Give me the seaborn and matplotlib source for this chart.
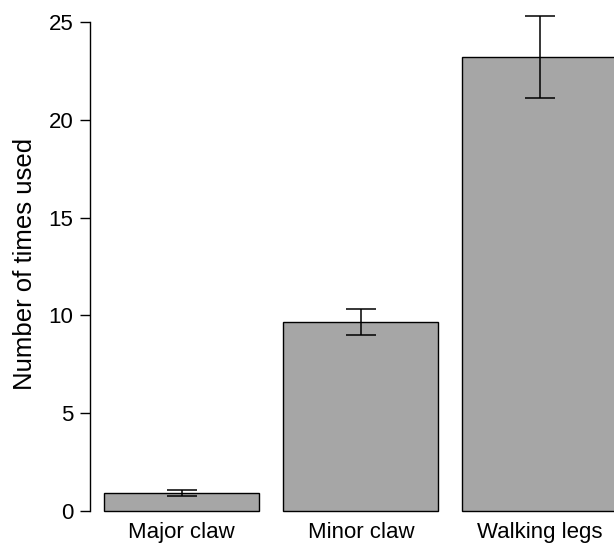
import matplotlib
matplotlib.use("Agg")
import matplotlib.pyplot as plt
import seaborn as sns
import pandas as pd

categories = ["Major claw", "Minor claw", "Walking legs"]
means = [0.93, 9.65, 23.2]
err_low = [0.78, 9.0, 21.1]
err_high = [1.08, 10.32, 25.3]
yticks = [0, 5, 10, 15, 20, 25]

sns.set_theme(style="white")
plt.rcParams['font.family'] = ['Liberation Sans', 'DejaVu Sans']

df = pd.DataFrame({"part": categories, "count": means})

W, H = 614, 547
fig = plt.figure(figsize=(W / 100, H / 100), dpi=100)
px_per_unit = 19.56
y0_px = 511
ylo, yhi = -0.6, 25.8
bottom_px = y0_px - ylo * px_per_unit
top_px = y0_px - yhi * px_per_unit
left_px = 90
ax = fig.add_axes([left_px / W, 1 - bottom_px / H, (W - left_px) / W, (bottom_px - top_px) / H])

sns.barplot(data=df, x="part", y="count", ax=ax, color="#A6A6A6", saturation=1,
            width=0.866, edgecolor="black", linewidth=1.0, errorbar=None)

xs = list(range(len(categories)))
lower = [m - l for m, l in zip(means, err_low)]
upper = [h - m for m, h in zip(means, err_high)]
ax.errorbar(xs, means, yerr=[lower, upper], fmt="none", ecolor="black",
            elinewidth=1.1, capsize=11, capthick=1.1, clip_on=False, zorder=5)

ax.set_xlim(-0.513, -0.513 + (W - left_px) / 179)
ax.set_ylim(ylo, yhi)
ax.set_yticks(yticks)
ax.set_yticklabels([str(t) for t in yticks])

for s in ["top", "right", "bottom"]:
    ax.spines[s].set_visible(False)
ax.spines["left"].set_bounds(0, 25)
ax.spines["left"].set_color("black")
ax.spines["left"].set_linewidth(1.0)

ax.tick_params(axis="y", left=True, length=7.5, width=1.0, color="black",
               labelsize=16, pad=4.5, labelcolor="black")
ax.tick_params(axis="x", bottom=False, length=0, labelsize=16, pad=-0.5, labelcolor="black")

ax.set_xlabel("")
ax.set_ylabel("Number of times used", fontsize=18.5, color="black")
ax.yaxis.set_label_coords((37 - left_px) / (W - left_px), 0.502)

fig.savefig("out.png", dpi=100)
